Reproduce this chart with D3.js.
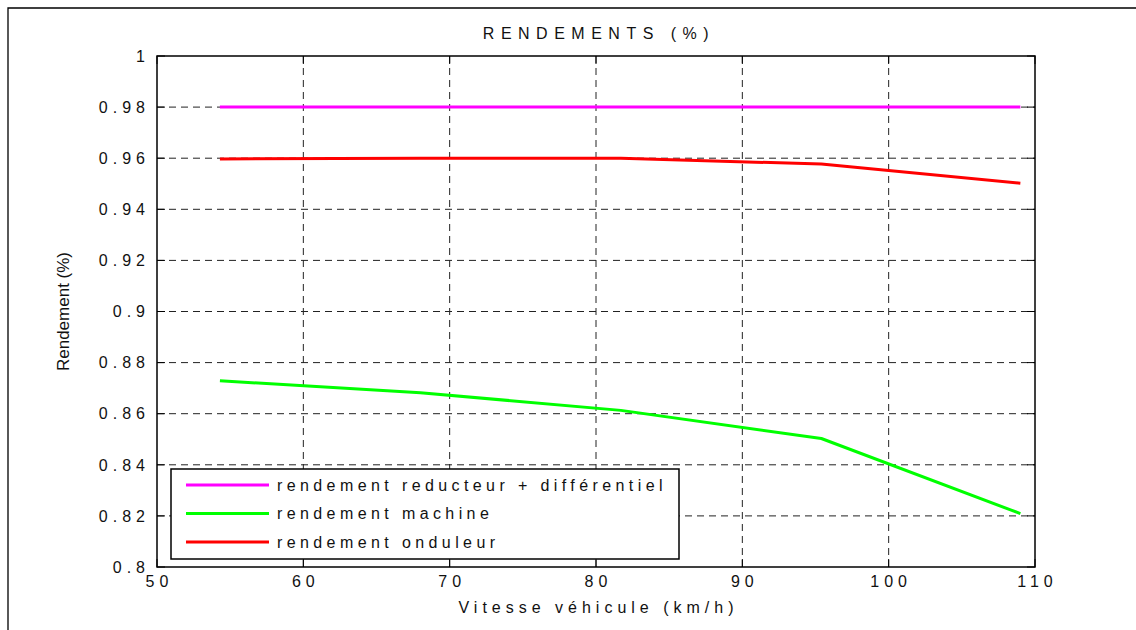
<!DOCTYPE html>
<html>
<head>
<meta charset="utf-8">
<script src="https://cdn.jsdelivr.net/npm/d3@7"></script>
<style>
  body { margin: 0; background: #fff; }
  svg text { font-family: "Liberation Sans", Arial, sans-serif; fill: #111; }
</style>
</head>
<body>
<div id="chart"></div>
<script>
// vitesse (km/h) des points de mesure
const SPEEDS = [54.3, 68.0, 81.7, 95.4, 109.0];
const REDUCTEUR = [0.98, 0.98, 0.98, 0.98, 0.98];
const MACHINE = [0.8729, 0.8682, 0.8613, 0.8503, 0.8209];
const ONDULEUR = [0.9597, 0.9600, 0.9600, 0.9577, 0.9502];

const X_TICKS = [50, 60, 70, 80, 90, 100, 110];
const Y_TICKS = [0.8, 0.82, 0.84, 0.86, 0.88, 0.9, 0.92, 0.94, 0.96, 0.98, 1];

const SERIES = [
  { label: 'rendement reducteur + différentiel', values: REDUCTEUR, color: '#ff00ff' },
  { label: 'rendement machine', values: MACHINE, color: '#00ff00' },
  { label: 'rendement onduleur', values: ONDULEUR, color: '#ff0000' },
];

const width = 1136, height = 630;
const margin = { top: 56, right: 101, bottom: 63, left: 157 };
const innerW = width - margin.left - margin.right;
const innerH = height - margin.top - margin.bottom;

const svg = d3.select('#chart').append('svg')
  .attr('width', width).attr('height', height);

// cadre extérieur (haut + gauche visibles)
svg.append('path')
  .attr('d', `M8,${height} L8,8 L${width},8`)
  .attr('fill', 'none').attr('stroke', '#000').attr('stroke-width', 1.3);

const x = d3.scaleLinear().domain([50, 110]).range([0, innerW]);
const y = d3.scaleLinear().domain([0.8, 1]).range([innerH, 0]);

const g = svg.append('g').attr('transform', `translate(${margin.left},${margin.top})`);

// Grid
g.append('g').selectAll('line').data(X_TICKS.slice(1, -1)).join('line')
  .attr('x1', d => x(d)).attr('x2', d => x(d))
  .attr('y1', 0).attr('y2', innerH)
  .attr('stroke', '#222').attr('stroke-width', 1).attr('stroke-dasharray', '7,5');
g.append('g').selectAll('line').data(Y_TICKS.slice(1, -1)).join('line')
  .attr('y1', d => y(d)).attr('y2', d => y(d))
  .attr('x1', 0).attr('x2', innerW)
  .attr('stroke', '#222').attr('stroke-width', 1).attr('stroke-dasharray', '7,5');

// Ticks (inward, all four sides)
const tl = 8;
const tickG = g.append('g').attr('stroke', '#000').attr('stroke-width', 1);
X_TICKS.forEach(t => {
  tickG.append('line').attr('x1', x(t)).attr('x2', x(t)).attr('y1', innerH).attr('y2', innerH - tl);
  tickG.append('line').attr('x1', x(t)).attr('x2', x(t)).attr('y1', 0).attr('y2', tl);
});
Y_TICKS.forEach(t => {
  tickG.append('line').attr('y1', y(t)).attr('y2', y(t)).attr('x1', 0).attr('x2', tl);
  tickG.append('line').attr('y1', y(t)).attr('y2', y(t)).attr('x1', innerW).attr('x2', innerW - tl);
});

// Tick labels
const ls = 5;
g.append('g').selectAll('text').data(Y_TICKS).join('text')
  .attr('x', -12 + ls).attr('y', d => y(d)).attr('dy', '0.36em')
  .attr('text-anchor', 'end')
  .style('font-size', '16px').style('letter-spacing', ls + 'px')
  .text(d => d3.format('~g')(d));
g.append('g').selectAll('text').data(X_TICKS).join('text')
  .attr('x', d => x(d) + ls / 2).attr('y', innerH + 20)
  .attr('text-anchor', 'middle')
  .style('font-size', '16px').style('letter-spacing', ls + 'px')
  .text(d => d);

// Box
g.append('rect').attr('width', innerW).attr('height', innerH)
  .attr('fill', 'none').attr('stroke', '#000').attr('stroke-width', 1.5);

// Lines
const line = d3.line().x((d, i) => x(SPEEDS[i])).y(d => y(d));
SERIES.forEach(s => {
  g.append('path').datum(s.values)
    .attr('d', line)
    .attr('fill', 'none').attr('stroke', s.color).attr('stroke-width', 3)
    .attr('stroke-linejoin', 'round');
});

// Titles
svg.append('text').attr('x', 596 + 3).attr('y', 39)
  .attr('text-anchor', 'middle')
  .style('font-size', '16px').style('letter-spacing', '6.5px')
  .text('RENDEMENTS (%)');
svg.append('text').attr('x', margin.left + innerW / 2 + ls / 2).attr('y', 613)
  .attr('text-anchor', 'middle')
  .style('font-size', '16px').style('letter-spacing', ls + 'px')
  .text('Vitesse véhicule (km/h)');
svg.append('text')
  .attr('transform', `translate(69,${margin.top + innerH / 2}) rotate(-90)`)
  .attr('text-anchor', 'middle')
  .style('font-size', '17px')
  .text('Rendement (%)');

// Legend
const leg = svg.append('g').attr('transform', 'translate(171,469)');
leg.append('rect').attr('width', 508).attr('height', 90)
  .attr('fill', '#fff').attr('stroke', '#000').attr('stroke-width', 1.5);
SERIES.forEach((s, i) => {
  const ly = 16 + i * 28.5;
  leg.append('line').attr('x1', 15).attr('x2', 98).attr('y1', ly).attr('y2', ly)
    .attr('stroke', s.color).attr('stroke-width', 3);
  leg.append('text').attr('x', 106).attr('y', ly).attr('dy', '0.36em')
    .style('font-size', '16px').style('letter-spacing', '4.4px')
    .text(s.label);
});
</script>
</body>
</html>
